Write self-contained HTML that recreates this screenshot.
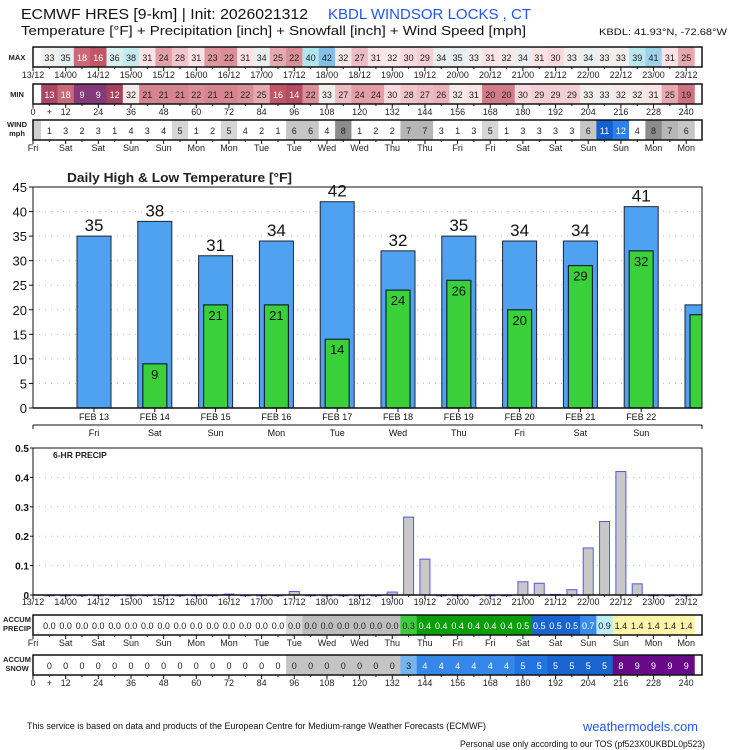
<!DOCTYPE html>
<html><head><meta charset="utf-8"><style>
body{margin:0;background:#fff;width:735px;height:750px;overflow:hidden}
svg{display:block;font-family:"Liberation Sans",sans-serif}
</style></head><body>
<svg id="c" width="735" height="750" viewBox="0 0 735 750">
<text x="21" y="19" font-size="15" fill="#111" textLength="287" lengthAdjust="spacingAndGlyphs">ECMWF HRES [9-km] | Init: 2026021312</text>
<text x="328" y="19" font-size="15" fill="#2255ee" textLength="203" lengthAdjust="spacingAndGlyphs">KBDL WINDSOR LOCKS  , CT</text>
<text x="21" y="35" font-size="13" fill="#111" textLength="505" lengthAdjust="spacingAndGlyphs">Temperature [°F] + Precipitation [inch] + Snowfall [inch] + Wind Speed [mph]</text>
<text x="599" y="35" font-size="9" fill="#111" textLength="128" lengthAdjust="spacingAndGlyphs">KBDL: 41.93°N, -72.68°W</text>
<text x="27" y="729" font-size="9" fill="#111" textLength="459" lengthAdjust="spacingAndGlyphs">This service is based on data and products of the European Centre for Medium-range Weather Forecasts (ECMWF)</text>
<text x="583" y="731" font-size="13" fill="#2255ee" textLength="115" lengthAdjust="spacingAndGlyphs">weathermodels.com</text>
<text x="460" y="747" font-size="9" fill="#111" textLength="245" lengthAdjust="spacingAndGlyphs">Personal use only according to our TOS (pf523X0UKBDL0p523)</text>
<text x="67" y="182" font-size="13" font-weight="bold" fill="#222" textLength="225" lengthAdjust="spacingAndGlyphs">Daily High &amp; Low Temperature [°F]</text>
</svg>
<script>
const maxT=[33,35,18,16,36,38,31,24,28,31,23,22,31,34,25,22,40,42,32,27,31,32,30,29,34,35,33,31,32,34,31,30,33,34,33,33,39,41,31,25];
const minT=[13,18,9,9,12,32,21,21,21,22,21,21,22,25,16,14,22,33,27,24,24,30,28,27,26,32,31,20,20,30,29,29,29,33,33,32,32,31,25,19];
const wind=[1,3,2,3,1,4,3,4,5,1,2,5,4,2,1,6,6,4,8,1,2,2,7,7,3,1,3,5,1,3,3,3,3,6,11,12,4,8,7,6];
const accP=["0.0","0.0","0.0","0.0","0.0","0.0","0.0","0.0","0.0","0.0","0.0","0.0","0.0","0.0","0.0","0.0","0.0","0.0","0.0","0.0","0.0","0.0","0.3","0.4","0.4","0.4","0.4","0.4","0.4","0.5","0.5","0.5","0.5","0.7","0.9","1.4","1.4","1.4","1.4","1.4"];
const accS=[0,0,0,0,0,0,0,0,0,0,0,0,0,0,0,0,0,0,0,0,0,0,3,4,4,4,4,4,4,5,5,5,5,5,5,8,9,9,9,9];
const precip=[0,0,0,0,0,0,0,0,0,0,0,0.003,0,0,0,0.012,0,0,0,0,0,0.01,0.265,0.122,0,0,0,0,0,0.045,0.04,0.002,0.018,0.16,0.25,0.42,0.038,0,0,0];
const timeLabels=["13/12","14/00","14/12","15/00","15/12","16/00","16/12","17/00","17/12","18/00","18/12","19/00","19/12","20/00","20/12","21/00","21/12","22/00","22/12","23/00","23/12"];
const dayLabels=["Fri","Sat","Sat","Sun","Sun","Mon","Mon","Tue","Tue","Wed","Wed","Thu","Thu","Fri","Fri","Sat","Sat","Sun","Sun","Mon","Mon"];
const hourLabels=["0","12","24","36","48","60","72","84","96","108","120","132","144","156","168","180","192","204","216","228","240"];
const dailyDates=["FEB 13","FEB 14","FEB 15","FEB 16","FEB 17","FEB 18","FEB 19","FEB 20","FEB 21","FEB 22",""];
const dailyDays=["Fri","Sat","Sun","Mon","Tue","Wed","Thu","Fri","Sat","Sun",""];
const dailyHigh=[35,38,31,34,42,32,35,34,34,41,21];
const dailyLow=[null,9,21,21,14,24,26,20,29,32,19];
const precipTicks=[0,0.1,0.2,0.3,0.4,0.5];
const tempTicks=[0,5,10,15,20,25,30,35,40,45];

const S=document.getElementById('c');const NS='http://www.w3.org/2000/svg';
function mk(t,a,p){const e=document.createElementNS(NS,t);for(const k in a)e.setAttribute(k,a[k]);(p||S).appendChild(e);return e;}
function txt(x,y,s,a,p){const e=mk('text',Object.assign({x:x,y:y},a),p);e.textContent=s;return e;}
const X0=33,X1=702,HW=16.33;
const tx=i=>X0+i*HW;
function hex(c){return [1,3,5].map(i=>parseInt(c.substr(i,2),16));}
function lerpStops(stops,v){if(v<=stops[0][0])return stops[0][1];for(let i=1;i<stops.length;i++){if(v<=stops[i][0]){const a=stops[i-1],b=stops[i],t=(v-a[0])/(b[0]-a[0]);const ca=hex(a[1]),cb=hex(b[1]);return 'rgb('+ca.map((c,j)=>Math.round(c+(cb[j]-c)*t)).join(',')+')';}}return stops[stops.length-1][1];}
const tStops=[[9,'#84397a'],[12,'#a5425f'],[16,'#c25667'],[20,'#d27c87'],[24,'#e29fa7'],[28,'#f1c6cb'],[31,'#fbe3e6'],[33,'#f1eeee'],[35,'#e5eef0'],[37,'#cdeff0'],[40,'#b2e5ee'],[42,'#86bfe6']];

function row(name,y,vals,colorFn,textFn,labels,labelTexts,rowName,firstCell){
  const lbls=labelTexts;
  lbls.forEach((l,k)=>{const t=txt(17,y+(lbls.length>1?7+k*9:13),l,{'font-size':7.5,'font-weight':'bold','text-anchor':'middle',fill:'#222'});
    
    });
  const g=mk('g',{});
  
  
  if(firstCell){mk('rect',{x:X0,y:y,width:8,height:20,fill:firstCell},g);}
  vals.forEach((v,i)=>{const cx=tx(i+1);
    const r=mk('rect',{x:cx-HW/2,y:y,width:HW+0.4,height:20,fill:colorFn(v,i)},g);
    
    
    const t=txt(cx,y+14,String(v),{'font-size':9,'text-anchor':'middle',fill:textFn(v,i)},g);
    
    });
  mk('rect',{x:X0,y:y,width:X1-X0,height:20,fill:'none',stroke:'#111','stroke-width':1.5},g);
  for(let i=0;i<=40;i++){mk('line',{x1:tx(i),x2:tx(i),y1:y+20,y2:y+(i%2?22:24),stroke:'#111'},g);}
  labels.forEach((l,k)=>{const t=txt(tx(k*2),y+31,l,{'font-size':9,'text-anchor':'middle',fill:'#222'},g);
    
    });
}
const dark=v=>v<=18?'#fff':'#222';
row('MAX',47,maxT,v=>lerpStops(tStops,v),dark,timeLabels,['MAX'],'max-temp');
row('MIN',84,minT,v=>lerpStops(tStops,v),dark,hourLabels,['MIN'],'min-temp');
{const p=txt(tx(1),84+31,'+',{'font-size':9,'text-anchor':'middle',fill:'#222'});}
const windC={5:'#d6d6d6',6:'#c6c6c6',7:'#b6b6b6',8:'#8c8c8c',11:'#1560d0',12:'#2a82ea'};
row('WIND',120,wind,v=>windC[v]||'#fff',v=>v>=11?'#fff':'#222',dayLabels,['WIND','mph'],'wind','#d0d0d0');
function pColor(v,i){if(i<15)return '#fff';if(i==15)return '#dadada';if(i<22)return '#bebebe';if(i==22)return '#3ccc3c';if(i<=29)return '#0a9e0a';if(i<=32)return '#1a64d0';if(i==33)return '#3a8ae8';if(i==34)return '#b9edf9';return '#fff5a8';}
row('PREC',615,accP,pColor,(v,i)=>(i>=23&&i<=33)?'#fff':'#222',dayLabels,['ACCUM','PRECIP'],'accum-precip');
function sColor(v,i){if(i<15)return '#fff';if(i<22)return '#c4c4c4';if(v==3)return '#76b4f0';if(v==4)return '#3588ea';if(v==5)return i<31?'#2374e0':'#1a64d0';return '#680a88';}
row('SNOW',655,accS,sColor,(v,i)=>(v>=4)?'#fff':'#222',hourLabels,['ACCUM','SNOW'],'accum-snow');
{const p=txt(tx(1),655+31,'+',{'font-size':9,'text-anchor':'middle',fill:'#222'});}

const DY0=408,DY1=187,DMAX=45;
const dy=v=>DY0-(v/DMAX)*(DY0-DY1);
const dx=i=>94+i*60.8;
const dg=mk('g',{});


mk('clipPath',{id:'dclip'},dg);
mk('rect',{x:X0,y:DY1-30,width:X1-X0,height:300},document.getElementById('dclip'));
tempTicks.forEach(v=>{if(v>0&&v<45)mk('line',{x1:X0,x2:X1,y1:dy(v),y2:dy(v),stroke:'#bbb','stroke-dasharray':'1 5'},dg);
  mk('line',{x1:X0-4,x2:X0,y1:dy(v),y2:dy(v),stroke:'#111'},dg);
  const t=txt(X0-6,dy(v)+5,String(v),{'font-size':13,'text-anchor':'end',fill:'#111'},dg);
  
  });
const bars=mk('g',{'clip-path':'url(#dclip)'},dg);
dailyHigh.forEach((h,i)=>{const b=mk('rect',{x:dx(i)-17,y:dy(h),width:34,height:DY0-dy(h),fill:'#4ea2f0',stroke:'#223','stroke-width':1},bars);
  
  
  if(i<10){const t=txt(dx(i),dy(h)-5,String(h),{'font-size':17,'text-anchor':'middle',fill:'#111'},dg);
    
    }
  const l=dailyLow[i];
  if(l!=null){const g2=mk('rect',{x:dx(i)-12,y:dy(l),width:24,height:DY0-dy(l),fill:'#3ad03a',stroke:'#123','stroke-width':1.2},bars);
    
    
    if(i<10){const t=txt(dx(i),dy(l)+15,String(l),{'font-size':13,'text-anchor':'middle',fill:'#111'},dg);
      
      }}
  if(dailyDates[i]){mk('line',{x1:dx(i),x2:dx(i),y1:DY0,y2:DY0+4,stroke:'#111'},dg);
    const t=txt(dx(i),DY0+12,dailyDates[i],{'font-size':9,'text-anchor':'middle',fill:'#111'},dg);
    
    
    const t2=txt(dx(i),DY0+28,dailyDays[i],{'font-size':9,'text-anchor':'middle',fill:'#111'},dg);
    
    }});
mk('rect',{x:X0,y:DY1,width:X1-X0,height:DY0-DY1,fill:'none',stroke:'#111','stroke-width':1},dg);
mk('line',{x1:X0,x2:X1,y1:DY0,y2:DY0,stroke:'#111','stroke-width':1.5},dg);
mk('line',{x1:X0,x2:X1,y1:425,y2:425,stroke:'#111'},dg);
mk('line',{x1:X0,x2:X0,y1:425,y2:429,stroke:'#111'},dg);mk('line',{x1:X1,x2:X1,y1:425,y2:429,stroke:'#111'},dg);

const PY0=595,PY1=448,PMAX=0.5;
const py=v=>PY0-(v/PMAX)*(PY0-PY1);
const pg=mk('g',{});


precipTicks.forEach(v=>{if(v>0&&v<0.5)mk('line',{x1:X0,x2:X1,y1:py(v),y2:py(v),stroke:'#bbb','stroke-dasharray':'1 5'},pg);
  mk('line',{x1:X0-3,x2:X0,y1:py(v),y2:py(v),stroke:'#111'},pg);
  const t=txt(X0-4,py(v)+4,v===0?'0':v.toFixed(1),{'font-size':10,'font-weight':'bold','text-anchor':'end',fill:'#111'},pg);
  
  });
precip.forEach((v,i)=>{const cx=tx(i+1);
  const b=mk('rect',{x:cx-5,y:py(v),width:10,height:Math.max(PY0-py(v),0.8),fill:'#c8c8c8',stroke:'#5555ee','stroke-width':1},pg);
  
  });
mk('rect',{x:X0,y:PY1,width:X1-X0,height:PY0-PY1,fill:'none',stroke:'#111','stroke-width':1},pg);
mk('line',{x1:X0,x2:X1,y1:PY0,y2:PY0,stroke:'#111','stroke-width':1.5},pg);
for(let i=0;i<=40;i++)mk('line',{x1:tx(i),x2:tx(i),y1:PY0,y2:PY0+(i%2?2:4),stroke:'#111'},pg);
timeLabels.forEach((l,k)=>{const t=txt(tx(k*2),PY0+10,l,{'font-size':9,'text-anchor':'middle',fill:'#222'},pg);
  
  });
{const t=txt(53,458,'6-HR PRECIP',{'font-size':8.5,'font-weight':'bold',fill:'#222'},pg);}
</script>
</body></html>
